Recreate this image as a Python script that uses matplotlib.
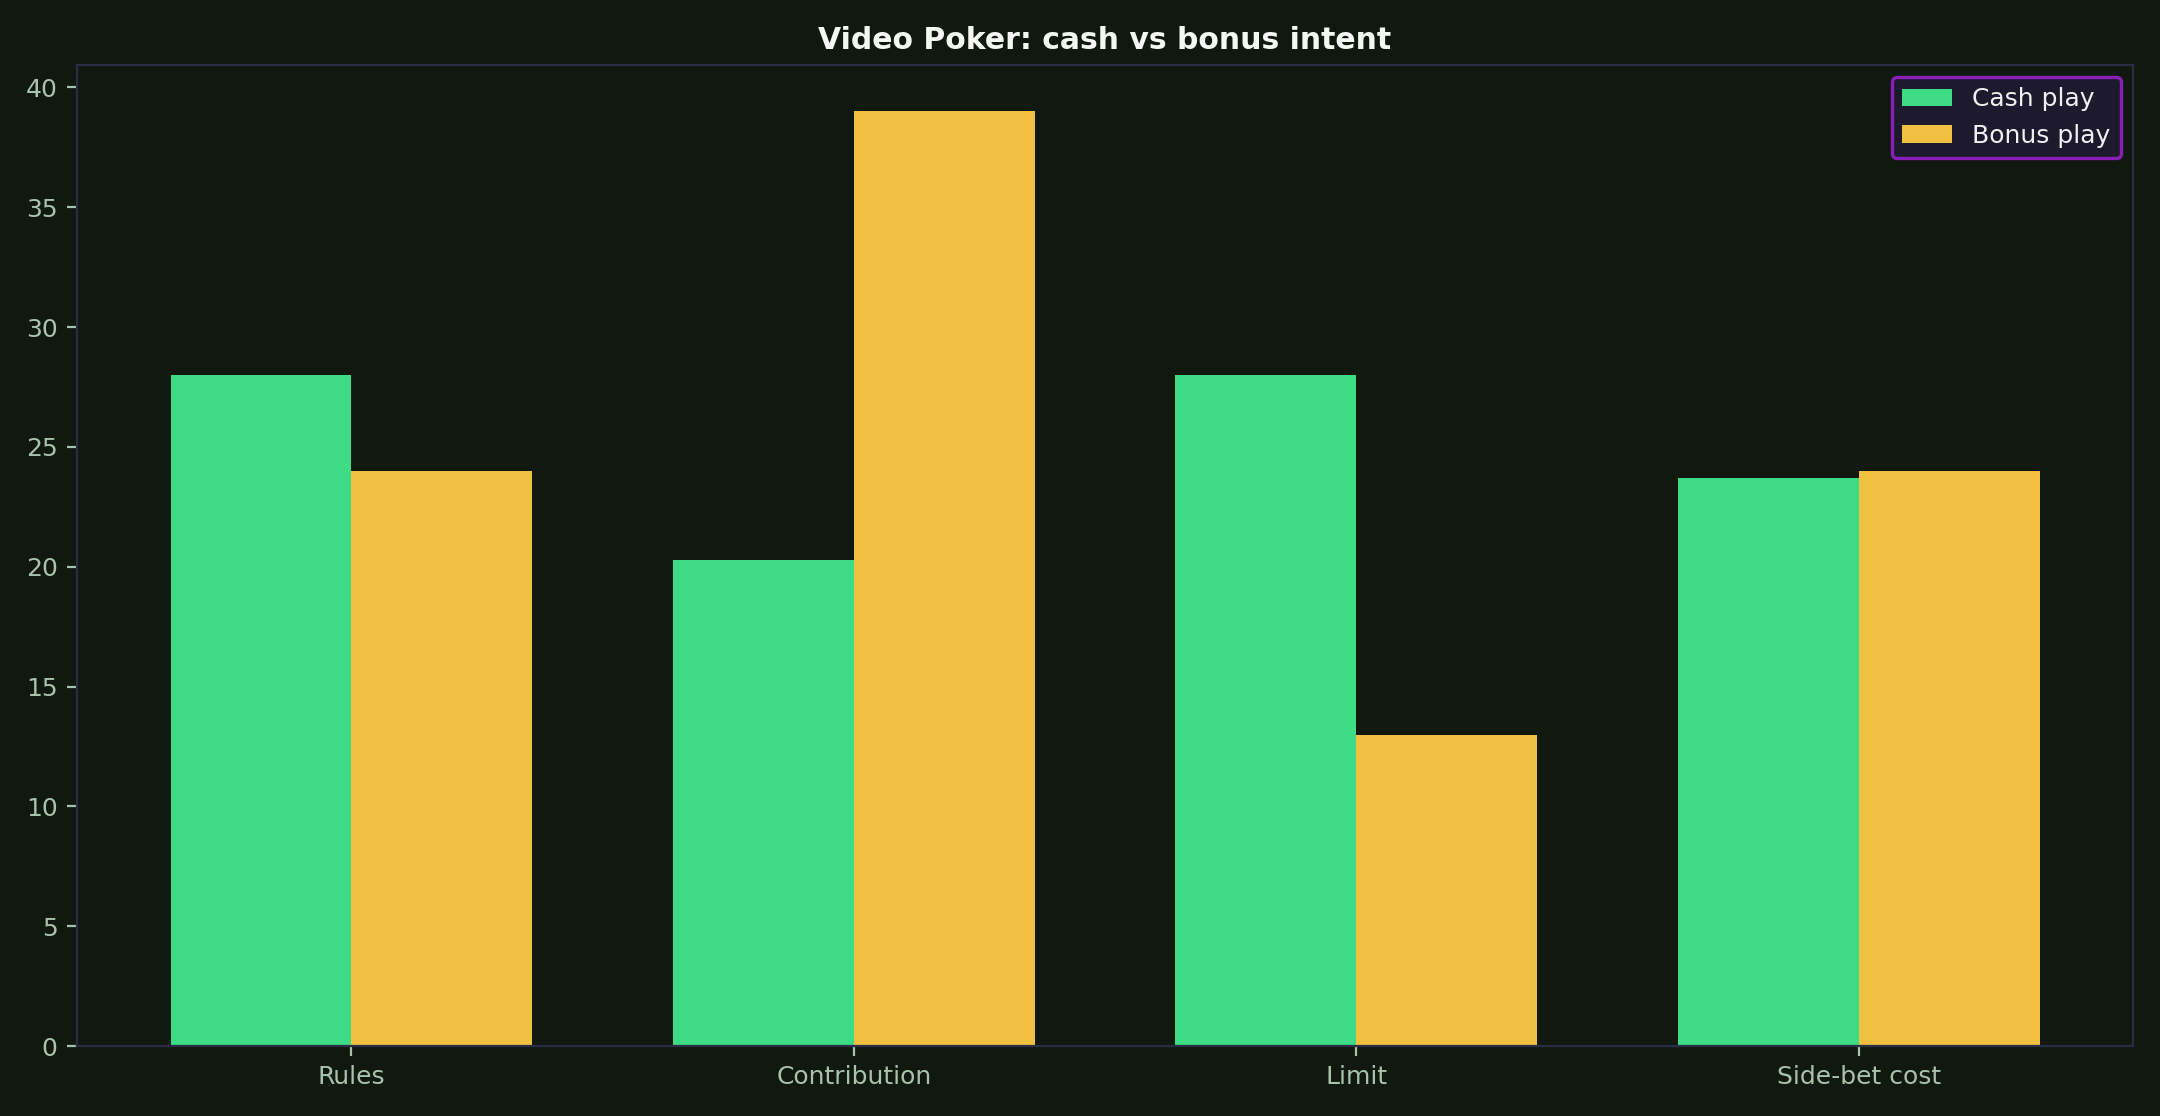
import matplotlib

matplotlib.use("Agg")
import matplotlib.pyplot as plt
import numpy as np

CATEGORIES = ["Rules", "Contribution", "Limit", "Side-bet cost"]
CASH = [28.0, 20.3, 28.0, 23.7]
BONUS = [24.0, 39.0, 13.0, 24.0]
SERIES = ["Cash play", "Bonus play"]

BG = "#101810"
GREEN = "#3ddc84"
YELLOW = "#f0c040"
SPINE = "#2a2d45"
TICK = "#a9c2ab"


def main() -> None:
    fig, ax = plt.subplots(figsize=(10.8, 5.58), dpi=200)
    fig.patch.set_facecolor(BG)
    ax.set_facecolor(BG)

    x = np.arange(len(CATEGORIES))
    w = 0.36
    ax.bar(x - w / 2, CASH, w, color=GREEN, label=SERIES[0])
    ax.bar(x + w / 2, BONUS, w, color=YELLOW, label=SERIES[1])

    ax.set_xticks(x, CATEGORIES)
    ax.set_yticks(range(0, 41, 5))
    ax.tick_params(colors=TICK, labelsize=9)
    for s in ax.spines.values():
        s.set_color(SPINE)

    ax.set_title("Video Poker: cash vs bonus intent", color="#f4f8f2",
                 fontsize=10.75, fontweight="bold", pad=5.5)

    leg = ax.legend(loc="upper right", fontsize=9, facecolor="#1e1a2e",
                    edgecolor="#8a1fb8", labelcolor="#f0f0f0", framealpha=1)
    leg.get_frame().set_linewidth(1.2)

    fig.subplots_adjust(left=0.0357, right=0.9875, top=0.942, bottom=0.0627)
    fig.savefig("out.png", dpi=200, facecolor=BG)
    plt.close(fig)


if __name__ == "__main__":
    main()
